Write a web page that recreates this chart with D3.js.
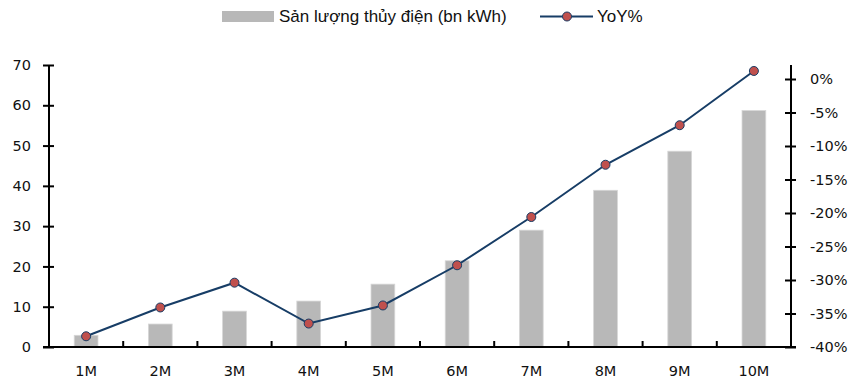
<!DOCTYPE html>
<html>
<head>
<meta charset="utf-8">
<script src="https://cdn.jsdelivr.net/npm/d3@7"></script>
<style>
  html, body { margin: 0; padding: 0; background: #fff; }
  svg { display: block; }
</style>
</head>
<body>
<svg id="chart" width="860" height="385"></svg>
<script>
// Monthly cumulative hydropower output and year-over-year change
const categories = ["1M", "2M", "3M", "4M", "5M", "6M", "7M", "8M", "9M", "10M"];
const output = [2.9, 5.7, 8.9, 11.4, 15.6, 21.4, 29.0, 38.9, 48.6, 58.7];
const yoy = [-38.4, -34.1, -30.4, -36.5, -33.8, -27.8, -20.6, -12.8, -6.9, 1.2];
const leftTicks = [0, 10, 20, 30, 40, 50, 60, 70];
const rightTicks = [-40, -35, -30, -25, -20, -15, -10, -5, 0];
const barLabel = "Sản lượng thủy điện (bn kWh)";
const lineLabel = "YoY%";

const svg = d3.select("#chart");
const plot = { left: 49, right: 791, top: 65, bottom: 347 };
const axisFont = "'DejaVu Sans', Verdana, sans-serif";
const legendFont = "'Liberation Sans Narrow', 'Arial Narrow', sans-serif";
const navy = "#173d66";
const red = "#c0504d";
const barGrey = "#b8b8b8";

const x = d3.scaleBand().domain(categories).range([plot.left, plot.right]);
const yL = d3.scaleLinear().domain([0, 70]).range([plot.bottom, plot.top]);
const yR = d3.scaleLinear().domain([-40, 0]).range([plot.bottom, 79]);

// Bars
const bw = x.bandwidth() * 0.32;
svg.append("g").selectAll("rect").data(output).join("rect")
  .attr("x", (d, i) => x(categories[i]) + x.bandwidth() / 2 - bw / 2)
  .attr("y", d => yL(d))
  .attr("width", bw)
  .attr("height", d => yL(0) - yL(d))
  .attr("fill", barGrey)
  .attr("stroke", "#d6d6d6")
  .attr("stroke-width", 0.8);

// Left axis
const gL = svg.append("g").attr("transform", `translate(${plot.left},0)`)
  .call(d3.axisLeft(yL).tickValues(leftTicks).tickSize(5).tickPadding(13));
gL.selectAll(".tick line").attr("x2", 5).attr("x1", -6);
gL.select(".domain").attr("d", `M0,${plot.bottom}V${plot.top}`);

// Right axis
const gR = svg.append("g").attr("transform", `translate(${plot.right},0)`)
  .call(d3.axisRight(yR).tickValues(rightTicks).tickSize(5).tickPadding(14)
    .tickFormat(d => d + "%"));
gR.selectAll(".tick line").attr("x1", -6).attr("x2", 5);
gR.select(".domain").attr("d", `M0,${plot.bottom}V${plot.top}`);

// Bottom axis with ticks between categories
const gB = svg.append("g").attr("transform", `translate(0,${plot.bottom})`)
  .call(d3.axisBottom(x).tickSize(0).tickPadding(19));
gB.select(".domain").attr("d", `M${plot.left - 6},0H${plot.right + 5}`);
gB.selectAll(".sep").data(categories.slice(1)).join("line")
  .attr("class", "sep")
  .attr("x1", d => x(d)).attr("x2", d => x(d))
  .attr("y1", 0).attr("y2", -6)
  .attr("stroke", "#000").attr("stroke-width", 2);

[gL, gR, gB].forEach(g => {
  g.select(".domain").attr("stroke", "#000").attr("stroke-width", 2);
  g.selectAll(".tick line").attr("stroke", "#000").attr("stroke-width", 2);
  g.selectAll("text").attr("font-family", axisFont).attr("font-size", 14.5).attr("fill", "#111");
});

// YoY line
const cx = (d, i) => x(categories[i]) + x.bandwidth() / 2;
const line = d3.line().x(cx).y(d => yR(d));
svg.append("path").datum(yoy)
  .attr("d", line).attr("fill", "none")
  .attr("stroke", navy).attr("stroke-width", 2);
svg.append("g").selectAll("circle").data(yoy).join("circle")
  .attr("cx", cx).attr("cy", d => yR(d)).attr("r", 4.5)
  .attr("fill", red).attr("stroke", navy).attr("stroke-width", 1);

// Legend
const lg = svg.append("g").attr("font-family", legendFont).attr("font-size", 17).attr("fill", "#111");
lg.append("rect").attr("x", 222).attr("y", 11).attr("width", 52).attr("height", 11).attr("fill", barGrey);
lg.append("text").attr("x", 279).attr("y", 22).text(barLabel);
lg.append("line").attr("x1", 540).attr("x2", 593).attr("y1", 16.5).attr("y2", 16.5)
  .attr("stroke", navy).attr("stroke-width", 2);
lg.append("circle").attr("cx", 567).attr("cy", 16.5).attr("r", 4.5)
  .attr("fill", red).attr("stroke", navy).attr("stroke-width", 1);
lg.append("text").attr("x", 597).attr("y", 22).text(lineLabel);
</script>
</body>
</html>
